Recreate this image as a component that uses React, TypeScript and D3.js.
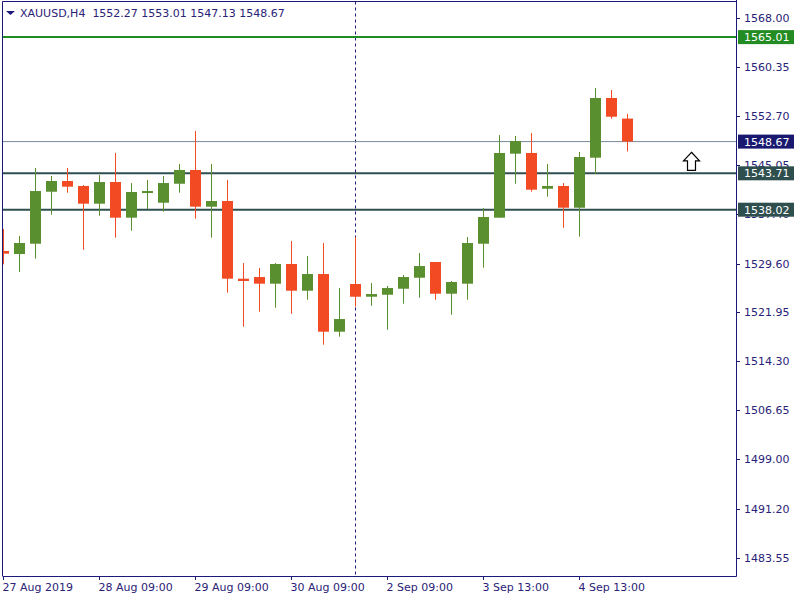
import React from "react";
import * as d3 from "d3";

const opens = [1531.56,1531.09,1532.70,1540.83,1542.51,1541.73,1538.96,1542.35,1536.77,1540.68,1539.11,1542.08,1544.23,1538.49,1539.38,1527.23,1527.49,1526.45,1529.53,1525.35,1527.96,1518.94,1526.40,1524.41,1524.72,1525.66,1527.38,1529.84,1524.88,1526.45,1532.70,1536.77,1546.78,1546.89,1541.30,1541.73,1538.33,1546.15,1555.49,1552.27];
const highs = [1535.00,1533.91,1544.54,1543.29,1544.54,1541.88,1543.45,1546.89,1542.19,1542.66,1543.29,1545.17,1550.33,1545.17,1542.66,1529.68,1528.90,1529.68,1533.12,1530.78,1532.81,1525.77,1533.75,1526.55,1526.09,1527.81,1531.25,1529.84,1526.87,1533.75,1538.28,1549.70,1549.55,1550.01,1545.17,1542.19,1547.04,1557.05,1556.74,1553.01];
const lows = [1529.48,1528.28,1530.36,1537.24,1540.68,1531.76,1537.08,1533.64,1534.73,1538.13,1537.71,1540.68,1536.61,1533.64,1525.04,1519.72,1522.07,1522.69,1521.75,1523.94,1516.91,1518.16,1522.85,1523.00,1519.25,1523.32,1524.26,1523.94,1521.60,1523.94,1528.95,1536.77,1542.08,1540.83,1540.05,1535.20,1533.80,1543.60,1552.25,1547.13];
const closes = [1531.14,1532.81,1540.94,1542.51,1541.62,1538.96,1542.35,1536.77,1540.79,1540.94,1542.19,1544.23,1538.49,1539.38,1527.23,1526.87,1526.45,1529.53,1525.35,1527.96,1518.94,1520.92,1524.41,1524.83,1525.77,1527.49,1529.21,1524.88,1526.71,1532.81,1536.88,1546.89,1548.76,1541.15,1541.73,1538.33,1546.26,1555.49,1552.56,1548.67];

const priceTicks = [1568.00,1560.35,1552.70,1545.05,1537.40,1529.60,1521.95,1514.30,1506.65,1499.00,1491.20,1483.55];
const timeTickIdx = [0,6,12,18,24,30,36];
const timeTickLabels = ["27 Aug 2019","28 Aug 09:00","29 Aug 09:00","30 Aug 09:00","2 Sep 09:00","3 Sep 13:00","4 Sep 13:00"];

const levelPrices = [1565.01,1548.67,1543.71,1538.02];
const levelColors = ["#228b22","#778899","#2f4f4f","#2f4f4f"];
const levelLabelBg = ["#228b22","#191970","#2f4f4f","#2f4f4f"];
const levelWidths = [2,1,2,2];

const separatorIdx = 22;
const arrowIdx = 43;
const arrowPrice = 1547.0;

const header = "XAUUSD,H4  1552.27 1553.01 1547.13 1548.67";

const BULL = "#5a8f2f";
const BEAR = "#f24b24";
const AXIS = "#1c1a78";
const TXT = "#2a2277";
const FONT = "Tahoma, 'DejaVu Sans', sans-serif";

export default function App() {
  const W = 800, H = 600;
  const left = 2.5, top = 1.5, right = 736, bottom = 576;
  const y = d3.scaleLinear().domain([1483.55, 1568.0]).range([558, 18]);
  const x = d3.scaleLinear().domain([0, 39]).range([3.5, 627.5]);
  const bw = 11;

  const candles = opens.map((o, i) => ({ o, h: highs[i], l: lows[i], c: closes[i], i }));

  const ax = x(arrowIdx), ay = y(arrowPrice);
  const arrowPath = d3.path();
  arrowPath.moveTo(ax, ay);
  arrowPath.lineTo(ax + 8, ay + 8.5);
  arrowPath.lineTo(ax + 4, ay + 8.5);
  arrowPath.lineTo(ax + 4, ay + 18);
  arrowPath.lineTo(ax - 4, ay + 18);
  arrowPath.lineTo(ax - 4, ay + 8.5);
  arrowPath.lineTo(ax - 8, ay + 8.5);
  arrowPath.closePath();

  return (
    <svg width={W} height={H} style={{ position: "absolute", left: 0, top: 0, background: "#fff" }} fontFamily={FONT}>
      <defs>
        <clipPath id="plot">
          <rect x={3} y={2} width={right - 3} height={bottom - 2} />
        </clipPath>
      </defs>
      <rect x={0} y={0} width={W} height={H} fill="#fff" />
      {priceTicks.map((p) => (
        <g key={p}>
          <line x1={right} x2={right + 4} y1={Math.round(y(p)) + 0.5} y2={Math.round(y(p)) + 0.5} stroke={AXIS} />
          <text x={744} y={y(p)} dy="0.36em" fontSize={11} fill={TXT}>{p.toFixed(2)}</text>
        </g>
      ))}
      <g clipPath="url(#plot)">
        <line x1={x(separatorIdx)} x2={x(separatorIdx)} y1={top} y2={bottom} stroke={AXIS} strokeDasharray="3,3" />
        {levelPrices.map((p, k) => (
          <line key={p} x1={left} x2={right} y1={y(p)} y2={y(p)} stroke={levelColors[k]} strokeWidth={levelWidths[k]} />
        ))}
        {candles.map((d) => {
          const col = d.c >= d.o ? BULL : BEAR;
          const cx = x(d.i);
          const yt = y(Math.max(d.o, d.c));
          const yb = y(Math.min(d.o, d.c));
          return (
            <g key={d.i}>
              <line x1={cx} x2={cx} y1={y(d.h)} y2={y(d.l)} stroke={col} strokeWidth={1} />
              <rect x={cx - bw / 2} y={yt} width={bw} height={Math.max(yb - yt, 2)} fill={col} />
            </g>
          );
        })}
        <path d={arrowPath.toString()} fill="#fff" stroke="#000" strokeWidth={1.2} />
      </g>
      <path d={`M${left},${bottom}V${top}H${right}`} fill="none" stroke={AXIS} />
      <line x1={left} x2={right + 0.5} y1={bottom + 0.5} y2={bottom + 0.5} stroke={AXIS} />
      <line x1={right + 0.5} x2={right + 0.5} y1={0} y2={bottom + 0.5} stroke={AXIS} />
      {levelPrices.map((p, k) => (
        <g key={"lb" + p}>
          <rect x={738} y={y(p) - 7} width={56} height={14} fill={levelLabelBg[k]} />
          <text x={744} y={y(p)} dy="0.36em" fontSize={11} fill="#fff">{p.toFixed(2)}</text>
        </g>
      ))}
      {timeTickIdx.map((t, k) => (
        <g key={t}>
          <line x1={x(t)} x2={x(t)} y1={bottom} y2={bottom + 4} stroke={AXIS} />
          <text x={x(t) - 1} y={591} fontSize={11} fill={TXT}>{timeTickLabels[k]}</text>
        </g>
      ))}
      <path d="M6,11 L15,11 L10.5,15 Z" fill={AXIS} />
      <text x={20} y={17} fontSize={11} fill={TXT} style={{ whiteSpace: "pre" }}>{header}</text>
    </svg>
  );
}
